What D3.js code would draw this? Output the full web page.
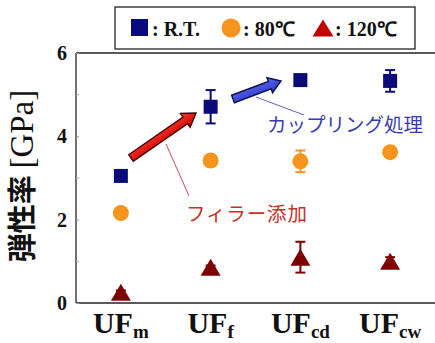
<!DOCTYPE html>
<html>
<head>
<meta charset="utf-8">
<script src="https://cdn.jsdelivr.net/npm/d3@7"></script>
<style>
  html, body { margin: 0; padding: 0; background: #fff; }
  svg { display: block; }
</style>
</head>
<body>
<svg id="chart" width="435" height="343"></svg>
<script>
// Sample groups (main label + subscript)
const catMain = "UF";
const catSub = ["m", "f", "cd", "cw"];
const categories = catSub.map(s => catMain + s);

// Elastic modulus [GPa] at each test temperature, with error half-widths
const rtValues   = [3.05, 4.71, 5.35, 5.33];
const rtErrors   = [0.05, 0.40, 0.05, 0.26];
const c80Values  = [2.16, 3.42, 3.40, 3.62];
const c80Errors  = [0.03, 0.04, 0.26, 0.04];
const c120Values = [0.26, 0.86, 1.10, 1.00];
const c120Errors = [0.04, 0.04, 0.37, 0.10];

const yTicks = [0, 2, 4, 6];
const yMinorTicks = [1, 3, 5];

const legendLabels = [": R.T.", ": 80\u2103", ": 120\u2103"];
const notes = { filler: "フィラー添加", coupling: "カップリング処理" };
const yTitleJa = "弾性率";
const yTitleUnit = "[GPa]";

const svg = d3.select("#chart");
const serif = "'Liberation Serif', 'Times New Roman', serif";
const gothic = "'Noto Sans CJK JP', 'Noto Sans', sans-serif";

const x = d3.scalePoint().domain(categories).range([76, 435]).padding(0.5);
const y = d3.scaleLinear().domain([0, 6]).range([303, 53]);

// Frame: left axis, bottom axis and top border
const frame = svg.append("g").attr("stroke", "#222").attr("stroke-width", 1.3);
frame.append("line").attr("x1", 76).attr("x2", 76).attr("y1", y(6)).attr("y2", y(0));
frame.append("line").attr("x1", 76).attr("x2", 435).attr("y1", y(0)).attr("y2", y(0));
frame.append("line").attr("x1", 76).attr("x2", 435).attr("y1", y(6)).attr("y2", y(6));

// Y axis with inward ticks
const yAxis = d3.axisLeft(y).tickValues(yTicks).tickSize(-3).tickPadding(9)
  .tickFormat(d3.format("d"));
const gy = svg.append("g").attr("transform", "translate(76,0)").call(yAxis);
gy.select(".domain").remove();
gy.selectAll(".tick line").attr("stroke", "#999");
gy.selectAll("text").attr("font-family", serif).attr("font-weight", "bold")
  .attr("font-size", 20).attr("fill", "#111");
svg.append("g").selectAll("line").data(yMinorTicks).join("line")
  .attr("x1", 76).attr("x2", 79).attr("y1", d => y(d)).attr("y2", d => y(d))
  .attr("stroke", "#aaa");

// X category labels with subscripts
const xl = svg.append("g").selectAll("text").data(categories).join("text")
  .attr("x", d => x(d)).attr("y", 333).attr("text-anchor", "middle")
  .attr("font-family", serif).attr("font-weight", "bold").attr("fill", "#111");
xl.append("tspan").attr("font-size", 30).text(catMain);
xl.append("tspan").attr("font-size", 19).attr("dy", 5).text((d, i) => catSub[i]);

// Y title
const yt = svg.append("text").attr("transform", "translate(33,176) rotate(-90)")
  .attr("text-anchor", "middle").attr("fill", "#111");
yt.append("tspan").attr("font-family", gothic).attr("font-weight", "bold")
  .attr("font-size", 29).text(yTitleJa + " ");
yt.append("tspan").attr("font-family", serif).attr("font-size", 33).text(yTitleUnit);

// Block arrows
function blockArrow(x0, y0, x1, y1, shaft, head, headLen, fill, stroke) {
  const dx = x1 - x0, dy = y1 - y0, L = Math.hypot(dx, dy);
  const a = Math.atan2(dy, dx) * 180 / Math.PI;
  const s = shaft / 2, h = head / 2, b = L - headLen;
  const pts = [[0, -s], [b, -s], [b, -h], [L, 0], [b, h], [b, s], [0, s]];
  svg.append("path")
    .attr("d", d3.line()(pts) + "Z")
    .attr("transform", `translate(${x0},${y0}) rotate(${a})`)
    .attr("fill", fill).attr("stroke", stroke).attr("stroke-width", 1.4)
    .attr("stroke-linejoin", "miter");
}
const defs = svg.append("defs");
const gr = defs.append("linearGradient").attr("id", "gRed").attr("x1", 0).attr("x2", 0).attr("y1", 0).attr("y2", 1);
gr.append("stop").attr("offset", 0).attr("stop-color", "#ff3a2a");
gr.append("stop").attr("offset", 1).attr("stop-color", "#c80000");
const gb = defs.append("linearGradient").attr("id", "gBlue").attr("x1", 0).attr("x2", 0).attr("y1", 0).attr("y2", 1);
gb.append("stop").attr("offset", 0).attr("stop-color", "#5a6cf0");
gb.append("stop").attr("offset", 1).attr("stop-color", "#2a34c8");

// Leader lines and notes
svg.append("line").attr("x1", 166).attr("y1", 144).attr("x2", 189).attr("y2", 196)
  .attr("stroke", "#c04040").attr("stroke-width", 0.9);
svg.append("line").attr("x1", 256).attr("y1", 97).attr("x2", 304).attr("y2", 115)
  .attr("stroke", "#5050b0").attr("stroke-width", 0.9);

blockArrow(131, 158, 196, 113, 8, 17, 13, "url(#gRed)", "#400000");
blockArrow(233, 99, 281, 81, 8, 16, 12, "url(#gBlue)", "#10104a");

svg.append("text").attr("x", 186).attr("y", 221).attr("font-family", gothic)
  .attr("font-size", 19.5).attr("fill", "#c8302a").attr("textLength", 121)
  .text(notes.filler);
svg.append("text").attr("x", 267).attr("y", 132).attr("font-family", gothic)
  .attr("font-size", 19.5).attr("fill", "#3a3ab4").attr("textLength", 156)
  .text(notes.coupling);

// Markers
const colRT = "#0a0a78", col80 = "#f7941d", col120 = "#7e0000";
function errorBars(vals, errs, color) {
  const g = svg.append("g").attr("stroke", color).attr("stroke-width", 2);
  vals.forEach((v, i) => {
    const cx = x(categories[i]);
    g.append("line").attr("x1", cx).attr("x2", cx).attr("y1", y(v + errs[i])).attr("y2", y(v - errs[i]));
    [v + errs[i], v - errs[i]].forEach(e =>
      g.append("line").attr("x1", cx - 5).attr("x2", cx + 5).attr("y1", y(e)).attr("y2", y(e)));
  });
}
errorBars(rtValues, rtErrors, colRT);
errorBars(c80Values, c80Errors, col80);
errorBars(c120Values, c120Errors, col120);

function triPath(cx, cy, w, h) {
  return `M${cx},${cy - h / 2}L${cx + w / 2},${cy + h / 2}L${cx - w / 2},${cy + h / 2}Z`;
}
svg.append("g").selectAll("rect").data(rtValues).join("rect")
  .attr("x", (d, i) => x(categories[i]) - 7).attr("y", d => y(d) - 7)
  .attr("width", 14).attr("height", 14).attr("fill", colRT);
svg.append("g").selectAll("circle").data(c80Values).join("circle")
  .attr("cx", (d, i) => x(categories[i])).attr("cy", d => y(d)).attr("r", 8)
  .attr("fill", col80);
svg.append("g").selectAll("path").data(c120Values).join("path")
  .attr("d", (d, i) => triPath(x(categories[i]), y(d), 20, 17)).attr("fill", col120);

// Legend
svg.append("rect").attr("x", 115).attr("y", 7).attr("width", 300).attr("height", 42)
  .attr("fill", "#fff").attr("stroke", "#222").attr("stroke-width", 1.3);
svg.append("rect").attr("x", 131).attr("y", 19).attr("width", 17).attr("height", 17).attr("fill", "#0a0a80");
svg.append("circle").attr("cx", 231).attr("cy", 28).attr("r", 9.5).attr("fill", "#f7941d");
svg.append("path").attr("d", triPath(323, 28, 21, 17)).attr("fill", "#c00000");
const lx = [152, 243, 335];
svg.append("g").selectAll("text").data(legendLabels).join("text")
  .attr("x", (d, i) => lx[i]).attr("y", 36)
  .attr("font-family", serif).attr("font-weight", "bold").attr("font-size", 20)
  .attr("fill", "#111").text(d => d);
</script>
</body>
</html>
